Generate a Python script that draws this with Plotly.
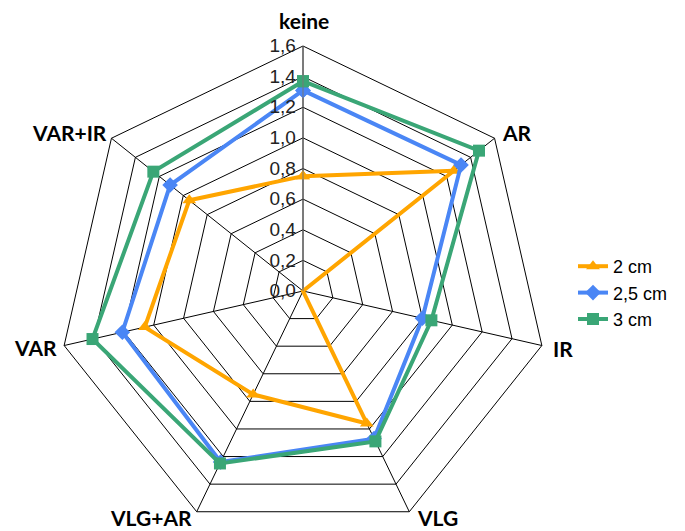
import plotly.graph_objects as go

categories = ["keine", "AR", "IR", "VLG", "VLG+AR", "VAR", "VAR+IR"]
s_2cm = [0.75, 1.26, 0.0, 0.96, 0.75, 1.06, 0.95]
s_25cm = [1.31, 1.32, 0.80, 1.07, 1.24, 1.21, 1.11]
s_3cm = [1.37, 1.47, 0.86, 1.09, 1.25, 1.41, 1.25]
series_names = ["2 cm", "2,5 cm", "3 cm"]
radial_ticks = [0, 0.2, 0.4, 0.6, 0.8, 1.0, 1.2, 1.4, 1.6]
colors = ["#FFA500", "#4A86F5", "#3AA676"]
symbols = ["triangle-up", "diamond", "square"]

fig = go.Figure()
for name, vals, col, sym in zip(series_names, [s_2cm, s_25cm, s_3cm], colors, symbols):
    fig.add_trace(go.Scatterpolar(
        r=vals + vals[:1], theta=categories + categories[:1], name=name,
        mode="lines+markers",
        line=dict(color=col, width=4),
        marker=dict(symbol=sym, size=12, color=col),
    ))

# page body has an 8px margin, so all positions are shifted by it
OFF = 8
W, H = 685 - OFF, 531
cx, cy, R = 303 - OFF, 291 - OFF, 245

# category label placement (window pixels) next to the polygon vertices
label_pos = [(304, 20), (517, 132), (563, 348), (437, 517), (151, 517), (35, 347), (70, 132)]
annotations = []
for cat, (px, py) in zip(categories, label_pos):
    annotations.append(dict(
        text=cat, x=(px - OFF) / W, y=1 - (py - OFF) / H, xref="paper", yref="paper",
        xanchor="center", yanchor="middle", showarrow=False,
        font=dict(family="Lato", size=21, color="black", weight="bold"),
    ))

fig.update_layout(
    width=W, height=H,
    margin=dict(l=0, r=0, t=0, b=0),
    paper_bgcolor="white", plot_bgcolor="white",
    separators=",.",
    annotations=annotations,
    polar=dict(
        domain=dict(x=[(cx - R) / W, (cx + R) / W], y=[1 - (cy + R) / H, 1 - (cy - R) / H]),
        bgcolor="white",
        gridshape="linear",
        radialaxis=dict(
            range=[0, 1.6], tickvals=radial_ticks,
            tickformat=".1f", angle=90, side="counterclockwise", tickangle=90,
            ticksuffix="\u00a0\u00a0",
            showline=True, linecolor="#777", linewidth=1,
            gridcolor="black", gridwidth=1, ticks="",
            tickfont=dict(family="Liberation Sans, Arial", size=19, color="#222"),
        ),
        angularaxis=dict(
            direction="clockwise", rotation=90,
            showline=True, linecolor="black", linewidth=1,
            gridcolor="black", gridwidth=1, ticks="",
            showticklabels=False,
        ),
    ),
    legend=dict(
        x=(573 - OFF) / W, y=1 - (293 - OFF) / H, xanchor="left", yanchor="middle",
        font=dict(family="Liberation Sans, Arial", size=18, color="black"),
        tracegroupgap=0, itemwidth=30,
    ),
)
fig.write_html("out.html")
